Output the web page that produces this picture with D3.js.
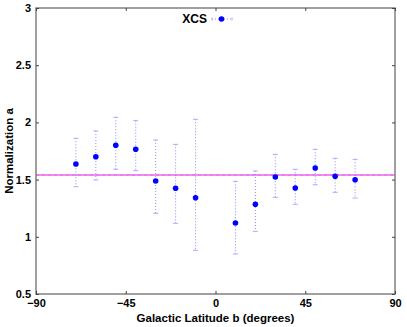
<!DOCTYPE html>
<html><head><meta charset="utf-8">
<script src="https://cdn.jsdelivr.net/npm/d3@7"></script>
<style>body{margin:0;background:#fff}svg{display:block}text{font-family:"Liberation Sans",Arial,sans-serif;font-weight:bold}</style>
</head><body>
<svg id="c" width="407" height="327"></svg>
<script>
const latitudes = [-70,-60,-50,-40,-30,-20,-10,10,20,30,40,50,60,70];
const norms     = [1.636,1.70,1.80,1.765,1.488,1.424,1.342,1.121,1.284,1.523,1.427,1.601,1.529,1.499];
const errHigh   = [1.861,1.925,2.045,2.015,1.846,1.808,2.027,1.485,1.575,1.721,1.59,1.765,1.686,1.677];
const errLow    = [1.438,1.497,1.59,1.578,1.205,1.118,0.882,0.850,1.048,1.345,1.284,1.455,1.389,1.339];
const meanLevel = 1.54;
const xTicks = [-90,-45,0,45,90];
const yTicks = [0.5,1,1.5,2,2.5,3];
const seriesName = "XCS";

const svg = d3.select("#c");
const L=36,R=395,T=8,B=294;
const x = d3.scaleLinear().domain([-90,90]).range([L,R]);
const y = d3.scaleLinear().domain([0.5,3]).range([B,T]);

// mean line
const g = svg.append("g");
g.append("line").attr("x1",L).attr("x2",R).attr("y1",y(meanLevel)).attr("y2",y(meanLevel))
 .attr("stroke","#f28cf2").attr("stroke-width",2.2);
g.append("line").attr("x1",L).attr("x2",R).attr("y1",y(meanLevel)).attr("y2",y(meanLevel))
 .attr("stroke","#e070e0").attr("stroke-width",1).attr("stroke-dasharray","3,3");

// error bars
const data = latitudes.map((b,i)=>({b,v:norms[i],hi:errHigh[i],lo:errLow[i]}));
const eb = svg.append("g").attr("stroke","#8888ff").attr("stroke-width",1);
eb.selectAll(".v").data(data).join("line")
  .attr("x1",d=>x(d.b)).attr("x2",d=>x(d.b)).attr("y1",d=>y(d.hi)).attr("y2",d=>y(d.lo))
  .attr("stroke-dasharray","1,2");
eb.selectAll(".t").data(data).join("line")
  .attr("x1",d=>x(d.b)-2.5).attr("x2",d=>x(d.b)+2.5).attr("y1",d=>y(d.hi)).attr("y2",d=>y(d.hi)).attr("stroke","#aaaaff");
eb.selectAll(".bo").data(data).join("line")
  .attr("x1",d=>x(d.b)-2.5).attr("x2",d=>x(d.b)+2.5).attr("y1",d=>y(d.lo)).attr("y2",d=>y(d.lo)).attr("stroke","#aaaaff");
svg.append("g").selectAll("circle").data(data).join("circle")
  .attr("cx",d=>x(d.b)).attr("cy",d=>y(d.v)).attr("r",2.8).attr("fill","#0000ff");

// frame
svg.append("rect").attr("x",L).attr("y",T).attr("width",R-L).attr("height",B-T)
 .attr("fill","none").attr("stroke","#808080").attr("stroke-width",1.5);

// axes
const ax = svg.append("g").attr("transform",`translate(0,${B})`)
 .call(d3.axisBottom(x).tickValues(xTicks).tickSize(-3).tickPadding(5).tickFormat(d3.format("d")));
const ay = svg.append("g").attr("transform",`translate(${L},0)`)
 .call(d3.axisLeft(y).tickValues(yTicks).tickSize(-3).tickPadding(5).tickFormat(d=>d));
[ax,ay].forEach(a=>{a.select(".domain").remove();a.selectAll("text").attr("font-size",11).attr("fill","#000");a.selectAll("line").attr("stroke","#444");});
svg.append("g").attr("transform",`translate(0,${T})`)
 .call(d3.axisTop(x).tickValues(xTicks).tickSize(-3).tickFormat(""))
 .call(a=>{a.select(".domain").remove();a.selectAll("line").attr("stroke","#444");});
svg.append("g").attr("transform",`translate(${R},0)`)
 .call(d3.axisRight(y).tickValues(yTicks).tickSize(-3).tickFormat(""))
 .call(a=>{a.select(".domain").remove();a.selectAll("line").attr("stroke","#444");});

// labels
svg.append("text").attr("x",(L+R)/2).attr("y",322).attr("text-anchor","middle").attr("font-size",11.5).text("Galactic Latitude b (degrees)");
svg.append("text").attr("transform",`translate(13,${(T+B)/2}) rotate(-90)`).attr("text-anchor","middle").attr("font-size",11.5).text("Normalization a");

// legend
svg.append("text").attr("x",207).attr("y",23).attr("text-anchor","end").attr("font-size",12).text(seriesName);
svg.append("line").attr("x1",212).attr("x2",232).attr("y1",19).attr("y2",19).attr("stroke","#8888ff").attr("stroke-dasharray","1,2");
svg.append("line").attr("x1",212).attr("x2",212).attr("y1",17.5).attr("y2",20.5).attr("stroke","#aaaaff");
svg.append("line").attr("x1",232).attr("x2",232).attr("y1",17.5).attr("y2",20.5).attr("stroke","#aaaaff");
svg.append("circle").attr("cx",221.5).attr("cy",19).attr("r",2.8).attr("fill","#0000ff");
</script>
</body></html>
